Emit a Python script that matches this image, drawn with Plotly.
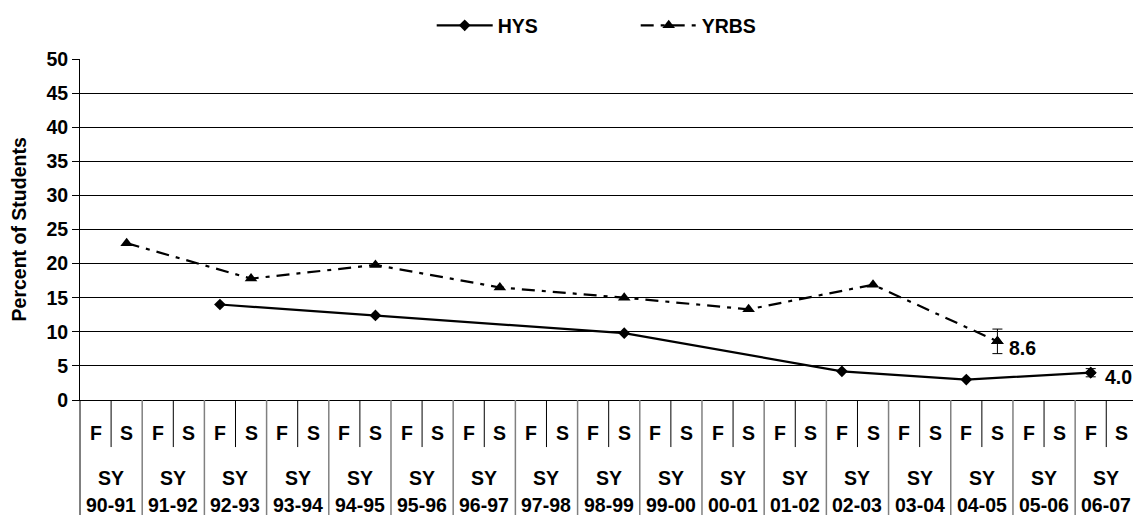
import plotly.graph_objects as go

school_years = ["90-91", "91-92", "92-93", "93-94", "94-95", "95-96", "96-97", "97-98",
                "98-99", "99-00", "00-01", "01-02", "02-03", "03-04", "04-05", "05-06", "06-07"]
terms = ["F", "S"]
categories = [f"{sy} {t}" for sy in school_years for t in terms]

hys_x = ["92-93 F", "94-95 S", "98-99 S", "02-03 F", "04-05 F", "06-07 F"]
hys_y = [14.0, 12.4, 9.8, 4.2, 3.0, 4.0]
hys_err_last = 0.6

yrbs_x = ["90-91 S", "92-93 S", "94-95 S", "96-97 S", "98-99 S", "00-01 S", "02-03 S", "04-05 S"]
yrbs_y = [23.0, 17.8, 19.8, 16.5, 15.0, 13.3, 16.9, 8.6]
yrbs_err_last = 1.8

y_ticks = [0, 5, 10, 15, 20, 25, 30, 35, 40, 45, 50]

FONT = "Liberation Sans, Arial, sans-serif"
FS = 19.5

def bold(size=FS):
    return dict(size=size, family=FONT, color="black", weight="bold")

fig = go.Figure()

fig.add_trace(go.Scatter(
    x=hys_x, y=hys_y, name="HYS", mode="lines+markers",
    line=dict(color="black", width=2.2),
    marker=dict(symbol="diamond", size=9, color="black"),
    cliponaxis=False,
))
fig.add_trace(go.Scatter(
    x=yrbs_x, y=yrbs_y, name="YRBS", mode="lines+markers",
    line=dict(color="black", width=2.2, dash="13px,7px,4px,7px"),
    marker=dict(symbol="triangle-up", size=11, color="black"),
    cliponaxis=False,
))
# error bars on the latest points
fig.add_trace(go.Scatter(
    x=[yrbs_x[-1]], y=[yrbs_y[-1]], mode="markers", showlegend=False,
    marker=dict(symbol="triangle-up", size=11, color="black"),
    error_y=dict(type="data", array=[yrbs_err_last], color="black", thickness=1, width=5),
    cliponaxis=False,
))
fig.add_trace(go.Scatter(
    x=[hys_x[-1]], y=[hys_y[-1]], mode="markers", showlegend=False,
    marker=dict(symbol="diamond", size=9, color="black"),
    error_y=dict(type="data", array=[hys_err_last], color="black", thickness=1, width=5),
    cliponaxis=False,
))

annotations = []
# value labels
annotations.append(dict(x=yrbs_x[-1], y=yrbs_y[-1], xref="x", yref="y", text=f"{yrbs_y[-1]:.1f}",
                        showarrow=False, xanchor="left", yanchor="middle", xshift=10, yshift=-7,
                        font=bold()))
annotations.append(dict(x=hys_x[-1], y=hys_y[-1], xref="x", yref="y", text=f"{hys_y[-1]:.1f}",
                        showarrow=False, xanchor="left", yanchor="middle", xshift=12, yshift=-4,
                        font=bold()))

# table: F/S labels and SY labels
shapes = []
for i, c in enumerate(categories):
    annotations.append(dict(x=i, y=-0.097, xref="x", yref="paper", text=c.split(" ")[1],
                            showarrow=False, xanchor="center", yanchor="middle", font=bold()))
for k, sy in enumerate(school_years):
    annotations.append(dict(x=2 * k + 0.5, y=-0.229, xref="x", yref="paper", text="SY",
                            showarrow=False, xanchor="center", yanchor="middle", font=bold()))
    annotations.append(dict(x=2 * k + 0.5, y=-0.309, xref="x", yref="paper", text=sy,
                            showarrow=False, xanchor="center", yanchor="middle", font=bold()))
    # inner F|S separator
    shapes.append(dict(type="line", xref="x", yref="paper", x0=2 * k + 0.5, x1=2 * k + 0.5,
                       y0=0, y1=-0.138, line=dict(color="black", width=1)))
    # group separator (right side)
    if k < len(school_years) - 1:
        shapes.append(dict(type="line", xref="x", yref="paper", x0=2 * k + 1.5, x1=2 * k + 1.5,
                           y0=0, y1=-0.4, line=dict(color="#808080", width=1.5)))
# left border of the table
shapes.append(dict(type="line", xref="paper", yref="paper", x0=0, x1=0, y0=0, y1=-0.4,
                   line=dict(color="black", width=1)))

# y axis title
annotations.append(dict(x=-0.058, y=0.5, xref="paper", yref="paper", text="Percent of Students",
                        showarrow=False, textangle=-90, xanchor="center", yanchor="middle",
                        font=bold()))

fig.update_layout(
    width=1133, height=515,
    margin=dict(l=80, r=0, t=59, b=115),
    paper_bgcolor="white", plot_bgcolor="white",
    font=bold(),
    showlegend=True,
    legend=dict(orientation="h", x=0.334, xanchor="left", y=1.155, yanchor="top",
                entrywidth=133, entrywidthmode="pixels",
                font=bold(), bgcolor="rgba(0,0,0,0)", itemwidth=56),
    xaxis=dict(type="category", categoryorder="array", categoryarray=categories,
               range=[-0.5, 33.36], showticklabels=False, ticks="", showgrid=False,
               zeroline=False, showline=True, linecolor="black", linewidth=1,
               fixedrange=True),
    yaxis=dict(range=[0, 50], tickvals=y_ticks, ticks="outside", ticklen=7, tickcolor="black",
               showgrid=True, gridcolor="black", gridwidth=1, zeroline=True, zerolinecolor="black",
               showline=True, linecolor="black", linewidth=1, tickfont=bold()),
    annotations=annotations,
    shapes=shapes,
)

fig.write_html("out.html", config={"displayModeBar": False},
               post_script="document.body.style.margin='0px';document.body.style.overflow='hidden';")
